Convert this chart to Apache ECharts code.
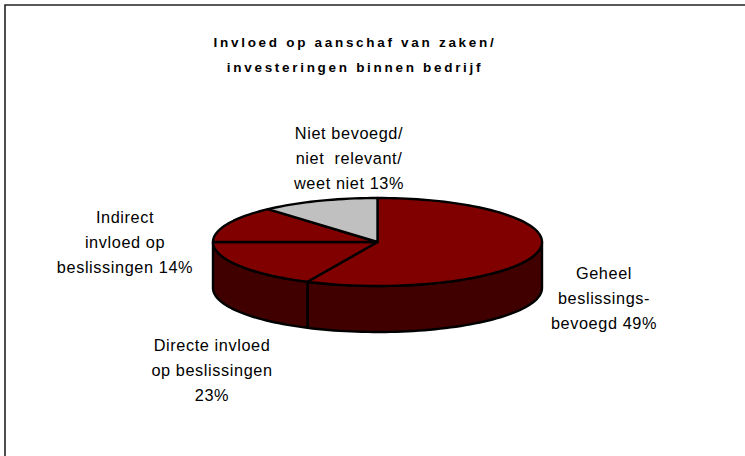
<!DOCTYPE html>
<html>
<head>
<meta charset="utf-8">
<title>Invloed op aanschaf</title>
<style>
  html, body { margin: 0; padding: 0; background: #fff; }
  #main { width: 745px; height: 456px; }
  /* ECharts has no letter spacing option, the svg text takes it from css */
  #main text { letter-spacing: 0.6px; }
  #main text[style*="bold"] { letter-spacing: 2.7px; }
</style>
<script src="https://cdn.jsdelivr.net/npm/echarts@6/dist/echarts.min.js"></script>
</head>
<body>
<div id="main"></div>
<script>
// slices as drawn, clockwise from the top, in % of the circle
var sliceNames = ['Geheel', 'Directe', 'Indirect', 'Niet bevoegd'];
var sliceValues = [57, 18, 13.4, 11.6];
var titleLines = ['Invloed op aanschaf van zaken/', 'investeringen binnen bedrijf'];
var sliceLabels = [
  'Geheel\nbeslissings-\nbevoegd 49%',
  'Directe invloed\nop beslissingen\n23%',
  'Indirect\ninvloed op\nbeslissingen 14%',
  'Niet bevoegd/\nniet  relevant/\nweet niet 13%'
];

var chart = echarts.init(document.getElementById('main'), null, { renderer: 'svg' });

var cx = 377.5, cy = 242, rx = 164.5, ry = 44, depth = 46;
var topColors = ['#800000', '#800000', '#800000', '#c0c0c0'];
var sideColor = '#400000';
var lineStyle = { stroke: '#000', lineWidth: 2.4, lineJoin: 'round' };

// point on the rim, angle in degrees clockwise from the top
function rim(deg, drop) {
  var a = deg * Math.PI / 180;
  return [cx + rx * Math.sin(a), cy - ry * Math.cos(a) + (drop || 0)];
}

function arc(from, to, drop) {
  var pts = [];
  var n = Math.max(2, Math.ceil(Math.abs(to - from) / 2));
  for (var i = 0; i <= n; i++) {
    pts.push(rim(from + (to - from) * i / n, drop));
  }
  return pts;
}

function renderSlice(params, api) {
  var total = sliceValues.reduce(function (s, v) { return s + v; }, 0);
  var start = 0;
  for (var i = 0; i < params.dataIndex; i++) {
    start += sliceValues[i] / total * 360;
  }
  var end = start + api.value(0) / total * 360;
  var children = [];

  // wall, only the part on the front half of the rim
  var wallFrom = Math.max(start, 90);
  var wallTo = Math.min(end, 270);
  if (wallTo > wallFrom) {
    children.push({
      type: 'polygon',
      z2: 1,
      shape: { points: arc(wallFrom, wallTo, 0).concat(arc(wallTo, wallFrom, depth)) },
      style: Object.assign({ fill: sideColor }, lineStyle)
    });
  }
  // top face
  children.push({
    type: 'polygon',
    z2: 2,
    shape: { points: [[cx, cy]].concat(arc(start, end, 0)) },
    style: Object.assign({ fill: topColors[params.dataIndex] }, lineStyle)
  });
  return { type: 'group', children: children };
}

var labelPlaces = [
  { x: 604, y: 260 },
  { x: 212, y: 332 },
  { x: 125, y: 204 },
  { x: 349, y: 120 }
];

var graphics = [{
  type: 'polyline',
  shape: { points: [[5, 460], [5, 5], [750, 5]] },
  style: { stroke: '#222', lineWidth: 1.6, fill: 'none' }
}];

titleLines.forEach(function (t, i) {
  graphics.push({
    type: 'text',
    x: 355,
    y: 42 + i * 25,
    style: {
      text: t,
      fill: '#000',
      font: 'bold 13.5px "Liberation Sans"',
      textAlign: 'center',
      textVerticalAlign: 'middle'
    }
  });
});

sliceLabels.forEach(function (t, i) {
  graphics.push({
    type: 'text',
    x: labelPlaces[i].x,
    y: labelPlaces[i].y,
    style: {
      text: t,
      fill: '#000',
      font: '16.3px "Liberation Sans"',
      lineHeight: 25,
      textAlign: 'center'
    }
  });
});

var option = {
  animation: false,
  backgroundColor: '#fff',
  graphic: graphics,
  series: [{
    type: 'custom',
    coordinateSystem: 'none',
    data: sliceValues.map(function (v, i) { return { name: sliceNames[i], value: [v] }; }),
    renderItem: renderSlice
  }]
};
chart.setOption(option);
</script>
</body>
</html>
